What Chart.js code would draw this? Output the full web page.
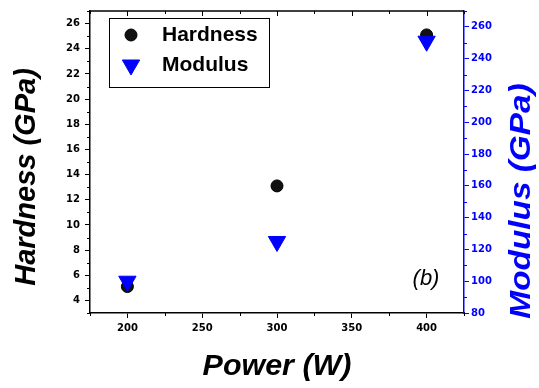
<!DOCTYPE html>
<html><head><meta charset="utf-8">
<style>html,body{margin:0;padding:0;background:#fff;overflow:hidden}</style>
<script src="https://cdn.jsdelivr.net/npm/chart.js@4/dist/chart.umd.min.js"></script>
</head><body>
<canvas id="c" width="539" height="388" style="width:539px;height:388px;display:block"></canvas>
<script>
// ---- data ----
const powers = [200, 300, 400];
const hardness = [5.1, 13.1, 25.1];
const modulus = [100, 125, 251];
const seriesNames = ['Hardness', 'Modulus'];
const xTicks = [200, 250, 300, 350, 400];
const xMinorTicks = [175, 225, 275, 325, 375, 425];
const leftTicks = [4, 6, 8, 10, 12, 14, 16, 18, 20, 22, 24, 26];
const leftMinorTicks = [3, 5, 7, 9, 11, 13, 15, 17, 19, 21, 23, 25, 27];
const rightTicks = [80, 100, 120, 140, 160, 180, 200, 220, 240, 260];
const rightMinorTicks = [90, 110, 130, 150, 170, 190, 210, 230, 250, 270];
const xTitle = 'Power (W)';
const leftTitle = 'Hardness (GPa)';
const rightTitle = 'Modulus (GPa)';
const panelLabel = '(b)';

const BLUE = '#0000ff';
const tickFont = {family: 'DejaVu Sans', size: 10, weight: 'bold'};

const extras = {
  id: 'extras',
  afterDraw(chart) {
    const ctx = chart.ctx;
    const a = chart.chartArea;
    const sx = chart.scales.x, sy = chart.scales.y, sy1 = chart.scales.y1;
    ctx.save();
    // top border
    ctx.strokeStyle = '#000'; ctx.lineWidth = 1.5;
    ctx.beginPath(); ctx.moveTo(a.left, a.top); ctx.lineTo(a.right, a.top); ctx.stroke();
    ctx.lineWidth = 1;
    // top ticks (inward)
    xTicks.forEach(v => { const p = Math.round(sx.getPixelForValue(v)) + 0.5; ctx.beginPath(); ctx.moveTo(p, a.top); ctx.lineTo(p, a.top + 5); ctx.stroke(); });
    xMinorTicks.forEach(v => { const p = Math.round(sx.getPixelForValue(v)) + 0.5; ctx.beginPath(); ctx.moveTo(p, a.top); ctx.lineTo(p, a.top + 3); ctx.stroke(); });
    // bottom minor ticks
    xMinorTicks.forEach(v => { const p = Math.round(sx.getPixelForValue(v)) + 0.5; ctx.beginPath(); ctx.moveTo(p, a.bottom); ctx.lineTo(p, a.bottom + 3); ctx.stroke(); });
    // left minor ticks
    leftMinorTicks.forEach(v => { const p = Math.round(sy.getPixelForValue(v)) + 0.5; ctx.beginPath(); ctx.moveTo(a.left, p); ctx.lineTo(a.left - 3, p); ctx.stroke(); });
    // right minor ticks
    ctx.strokeStyle = BLUE;
    rightMinorTicks.forEach(v => { const p = Math.round(sy1.getPixelForValue(v)) + 0.5; ctx.beginPath(); ctx.moveTo(a.right, p); ctx.lineTo(a.right + 3, p); ctx.stroke(); });

    // axis titles
    ctx.fillStyle = '#000';
    ctx.font = 'italic bold 29px "Liberation Sans"';
    ctx.textAlign = 'center'; ctx.textBaseline = 'middle';
    ctx.save(); ctx.translate((a.left + a.right) / 2, 367); ctx.scale(1.05, 1); ctx.fillText(xTitle, 0, 0); ctx.restore();
    ctx.save(); ctx.translate(27, 177); ctx.rotate(-Math.PI / 2); ctx.fillText(leftTitle, 0, 0); ctx.restore();
    ctx.fillStyle = BLUE;
    ctx.save(); ctx.translate(522, 201); ctx.rotate(-Math.PI / 2); ctx.scale(1.15, 1); ctx.fillText(rightTitle, 0, 0); ctx.restore();

    // panel label
    ctx.fillStyle = '#000';
    ctx.font = 'italic 22px "Liberation Sans"';
    ctx.fillText(panelLabel, 426, 279);

    // legend
    const lx = 109.5, ly = 18.5, lw = 160, lh = 69;
    ctx.strokeStyle = '#000'; ctx.lineWidth = 1;
    ctx.strokeRect(lx, ly, lw, lh);
    ctx.font = 'bold 21px "Liberation Sans"';
    ctx.textAlign = 'left';
    const rows = [35, 65];
    chart.data.datasets.forEach((ds) => {
      const idx = seriesNames.indexOf(ds.label);
      const yy = rows[idx];
      ctx.fillStyle = ds.backgroundColor; ctx.strokeStyle = ds.borderColor; ctx.lineWidth = 1;
      Chart.helpers.drawPoint(ctx, {pointStyle: ds.pointStyle, radius: ds.pointRadius, rotation: ds.rotation, borderWidth: 1}, 131, yy);
      ctx.fillStyle = '#000';
      ctx.fillText(ds.label, 162, yy);
    });
    ctx.restore();
  }
};

new Chart(document.getElementById('c'), {
  type: 'scatter',
  data: {
    datasets: [
      {label: seriesNames[1], data: powers.map((x, i) => ({x, y: modulus[i]})), yAxisID: 'y1',
       pointStyle: 'triangle', rotation: 180, pointRadius: 10, pointHoverRadius: 10,
       backgroundColor: BLUE, borderColor: BLUE, borderWidth: 1, order: 0},
      {label: seriesNames[0], data: powers.map((x, i) => ({x, y: hardness[i]})), yAxisID: 'y',
       pointStyle: 'circle', pointRadius: 6, pointHoverRadius: 6,
       backgroundColor: '#111', borderColor: '#000', borderWidth: 1, order: 1}
    ]
  },
  options: {
    responsive: false, animation: false, devicePixelRatio: 1,
    layout: {padding: {top: 9, left: 0, right: 0, bottom: 0}},
    plugins: {legend: {display: false}, tooltip: {enabled: false}},
    scales: {
      x: {type: 'linear', min: 175, max: 425,
        afterBuildTicks: s => { s.ticks = xTicks.map(v => ({value: v})); },
        afterFit: s => { s.height = 75; },
        ticks: {font: tickFont, color: '#000', padding: 4},
        grid: {drawOnChartArea: false, tickLength: 5, color: '#000'},
        border: {color: '#000', width: 1.5}},
      y: {type: 'linear', position: 'left', min: 3, max: 27,
        afterBuildTicks: s => { s.ticks = leftTicks.map(v => ({value: v})); },
        afterFit: s => { s.width = 90; },
        ticks: {font: tickFont, color: '#000', padding: 5},
        grid: {drawOnChartArea: false, tickLength: 5, color: '#000'},
        border: {color: '#000', width: 1.5}},
      y1: {type: 'linear', position: 'right', min: 80, max: 270,
        afterBuildTicks: s => { s.ticks = rightTicks.map(v => ({value: v})); },
        afterFit: s => { s.width = 75; },
        ticks: {font: tickFont, color: BLUE, padding: 2},
        grid: {drawOnChartArea: false, tickLength: 5, color: BLUE},
        border: {color: BLUE, width: 1.5}}
    }
  },
  plugins: [extras]
});
</script>
</body></html>
